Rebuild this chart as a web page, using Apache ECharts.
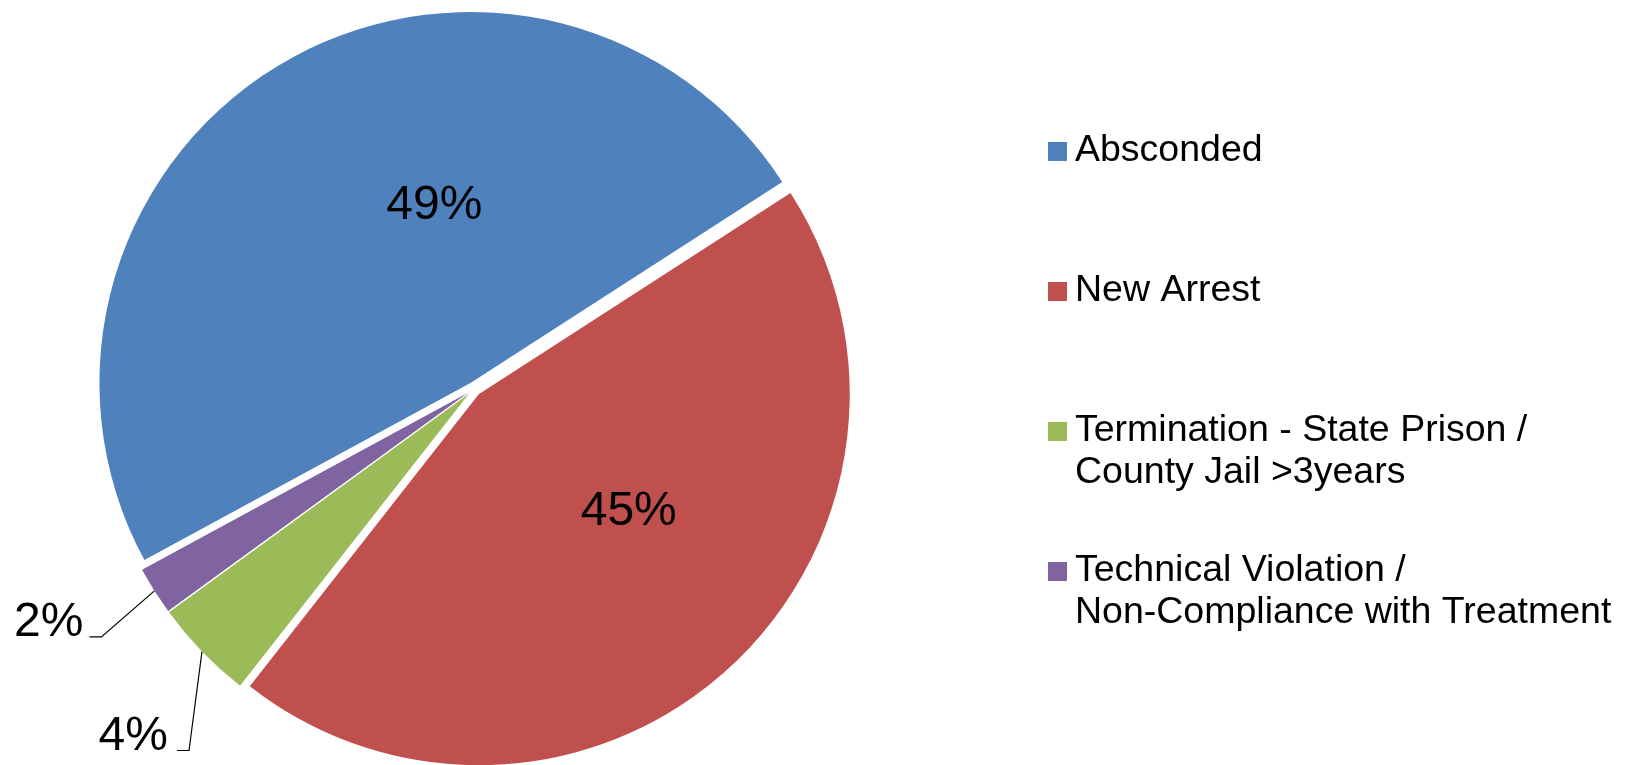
<!DOCTYPE html>
<html><head><meta charset="utf-8">
<script src="https://cdn.jsdelivr.net/npm/echarts@6/dist/echarts.min.js"></script>
<style>html,body{margin:0;padding:0;background:#fff}#c{width:1627px;height:765px}</style>
</head><body><div id="c"></div>
<script>
const categories = ['Absconded', 'New Arrest', 'Termination - State Prison / County Jail >3years', 'Technical Violation / Non-Compliance with Treatment'];
const shares = [48.8, 44.7, 4.4, 2.1];
const colors = ['#4F81BD', '#C0504D', '#9BBB59', '#8064A2'];

const FONT = 'Liberation Sans, Arial, sans-serif';
const chart = echarts.init(document.getElementById('c'), null, {renderer: 'canvas'});

const data = categories.map((name, i) => ({
  name: name,
  value: shares[i],
  selected: true,
  itemStyle: {color: colors[i]},
  label: i >= 2 ? {position: 'outside'} : {position: 'inside'},
  labelLine: {show: i >= 2}
}));

chart.setOption({
  animation: false,
  backgroundColor: '#fff',
  legend: {
    orient: 'vertical',
    left: 1043,
    top: 125,
    itemWidth: 19,
    itemHeight: 60,
    itemGap: 56,
    icon: 'path://M0 0H19V19H0Z M0 60',
    selectedMode: false,
    formatter: n => n.indexOf(' / ') >= 0 ? n.replace(' / ', ' /\n') : n + '\n\u00a0',
    textStyle: {fontSize: 37.5, lineHeight: 42, fontFamily: FONT, color: '#000', padding: [0, 0, 0, 3]},
    data: categories
  },
  series: [{
    type: 'pie',
    center: [474, 389],
    radius: 371,
    startAngle: 208.5,
    clockwise: true,
    selectedMode: 'multiple',
    selectedOffset: 7,
    percentPrecision: 0,
    avoidLabelOverlap: false,
    silent: true,
    emphasis: {disabled: true},
    label: {
      formatter: '{d}%',
      fontSize: 48,
      fontFamily: FONT,
      color: '#000'
    },
    labelLine: {lineStyle: {color: '#000', width: 1.2}, length: 15, length2: 12, smooth: false},
    labelLayout: function (p) {
      const i = p.dataIndex;
      if (i === 0) return {dx: 60, dy: -15};
      if (i === 1) return {dx: 23, dy: -22};
      const a = p.labelLinePoints && p.labelLinePoints[0];
      if (!a) return {};
      const bend = i === 2 ? [-13, 99] : [-53, 46];
      const seg2 = 12;
      const gap = i === 2 ? 9 : 6;
      const b = [a[0] + bend[0], a[1] + bend[1]];
      const c = [b[0] - seg2, b[1]];
      const r = p.labelRect;
      return {
        dx: (c[0] - gap) - (r.x + r.width),
        dy: (c[1] - 14) - (r.y + r.height / 2),
        labelLinePoints: [a, b, c]
      };
    },
    data: data
  }]
});
</script>
</body></html>
